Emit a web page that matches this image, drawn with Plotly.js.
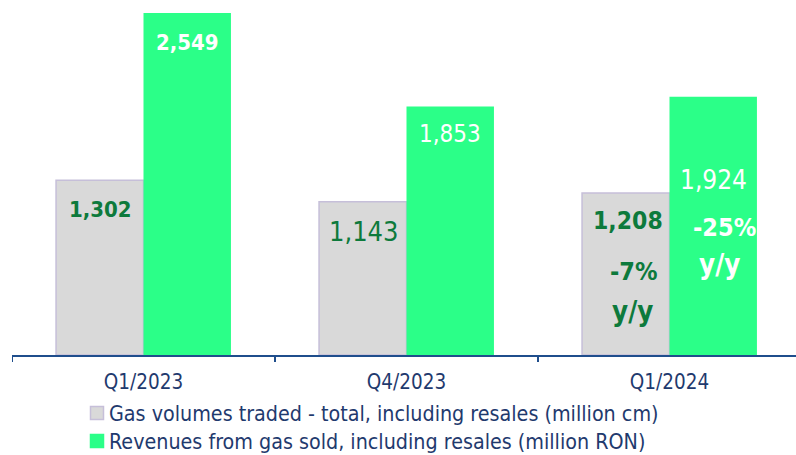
<!DOCTYPE html>
<html>
<head>
<meta charset="utf-8">
<script src="https://cdn.plot.ly/plotly-3.0.1.min.js"></script>
<style>html,body{margin:0;padding:0;background:#fff;}#chart{width:796px;height:455px;}</style>
</head>
<body>
<div id="chart"></div>
<script>
const categories = ["Q1/2023", "Q4/2023", "Q1/2024"];
const volumes = [1302, 1143, 1208];
const revenues = [2549, 1853, 1924];
const volumeName = "Gas volumes traded - total, including resales (million cm)";
const revenueName = "Revenues from gas sold, including resales (million RON)";
const volumeBold = [true, false, true];
const revenueBold = [true, false, false];
const yoyVolume = "-7%";
const yoyRevenue = "-25%";

const FONT = "'DejaVu Sans Condensed', 'DejaVu Sans', sans-serif";
const NAVY = "#1f3a6e";
const DKGREEN = "#0d7a3c";
const GRAY = "#d9d9d9", GRAYLINE = "#c6bfd9", GREEN = "#2bff88";
const fmt = v => v.toLocaleString("en-US");

const traces = [
  {type: "bar", name: volumeName, x: [0,1,2], y: volumes,
   marker: {color: GRAY, line: {color: GRAYLINE, width: 1.5}}, hoverinfo: "skip"},
  {type: "bar", name: revenueName, x: [0,1,2], y: revenues,
   marker: {color: GREEN, line: {width: 0}}, hoverinfo: "skip"}
];

const off = 0.1663;
const volSize = [22, 27, 24.5];
const revSize = [22, 24, 26];
const volShift = [-29, -30, -28];
const revShift = [-29, -28, -83];
const annotations = [];
volumes.forEach((v, i) => {
  annotations.push({x: i - off, y: v, xref: "x", yref: "y", yshift: volShift[i], xshift: i === 2 ? 2 : 1,
    text: volumeBold[i] ? "<b>" + fmt(v) + "</b>" : fmt(v), showarrow: false,
    font: {family: FONT, size: volSize[i], color: DKGREEN}});
});
revenues.forEach((v, i) => {
  annotations.push({x: i + off, y: v, xref: "x", yref: "y", yshift: revShift[i],
    text: revenueBold[i] ? "<b>" + fmt(v) + "</b>" : fmt(v), showarrow: false,
    font: {family: FONT, size: revSize[i], color: "#ffffff"}});
});
annotations.push({x: 2 - off, y: volumes[2], xref: "x", yref: "y", yshift: -79, xshift: 8,
  text: "<b>" + yoyVolume + "</b>", showarrow: false, font: {family: FONT, size: 25, color: DKGREEN}});
annotations.push({x: 2 - off, y: volumes[2], xref: "x", yref: "y", yshift: -118, xshift: 7,
  text: "<b>y/y</b>", showarrow: false, font: {family: FONT, size: 27.5, color: DKGREEN}});
annotations.push({x: 2 + off, y: revenues[2], xref: "x", yref: "y", yshift: -131, xshift: 11,
  text: "<b>" + yoyRevenue + "</b>", showarrow: false, font: {family: FONT, size: 25, color: "#ffffff"}});
annotations.push({x: 2 + off, y: revenues[2], xref: "x", yref: "y", yshift: -167, xshift: 6,
  text: "<b>y/y</b>", showarrow: false, font: {family: FONT, size: 27.5, color: "#ffffff"}});

// plot area in pixels: x 12..796, y 13..355
const PX = px => (px - 12) / 784;
const PY = py => (355 - py) / 342;

// legend (drawn as paper-anchored squares + text)
const legendItems = [
  {name: volumeName, fill: GRAY, line: GRAYLINE, cy: 413},
  {name: revenueName, fill: GREEN, line: GREEN, cy: 441}
];
const shapes = [-0.5, 0.5, 1.5].map(b => ({type: "line", xref: "x", yref: "paper",
  x0: b, x1: b, y0: 0, y1: PY(362), line: {color: "#1f4e8c", width: 2}}));
legendItems.forEach(it => {
  shapes.push({type: "rect", xref: "paper", yref: "paper",
    x0: PX(90.5), x1: PX(103.5), y0: PY(it.cy - 6.5), y1: PY(it.cy + 6.5),
    fillcolor: it.fill, line: {color: it.line, width: 1.5}});
  annotations.push({xref: "paper", yref: "paper", x: PX(107), y: PY(it.cy), xanchor: "left", yanchor: "middle",
    text: it.name, showarrow: false, font: {family: FONT, size: 21.3, color: NAVY}});
});

const layout = {
  width: 796, height: 455,
  margin: {l: 12, r: 0, t: 13, b: 100, pad: 0},
  paper_bgcolor: "#ffffff", plot_bgcolor: "#ffffff",
  barmode: "group", bargap: 0.335, bargroupgap: 0,
  showlegend: false,
  xaxis: {type: "linear", range: [-0.5, 2.481], tickmode: "array", tickvals: [0,1,2], ticktext: categories,
    showgrid: false, zeroline: false, showline: true, linecolor: "#1f4e8c", linewidth: 2,
    ticks: "", tickfont: {family: FONT, size: 20.5, color: NAVY}, ticklabelstandoff: 7, fixedrange: true},
  yaxis: {range: [0, 2549], visible: false, fixedrange: true},
  shapes: shapes,
  annotations: annotations
};

Plotly.newPlot("chart", traces, layout, {displayModeBar: false, staticPlot: true});
</script>
</body>
</html>
